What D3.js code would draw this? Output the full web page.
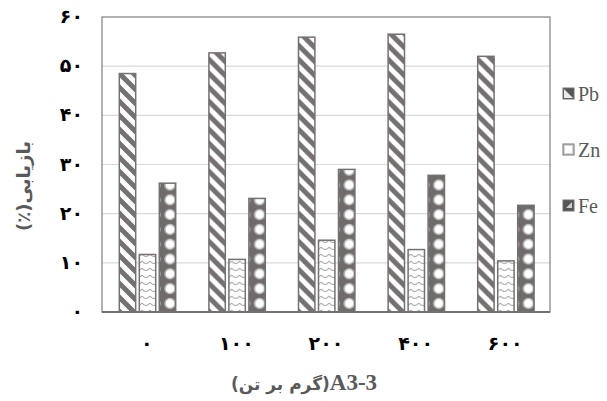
<!DOCTYPE html>
<html>
<head>
<meta charset="utf-8">
<script src="https://cdn.jsdelivr.net/npm/d3@7"></script>
<style>
  body { margin: 0; background: #fff; }
  svg { display: block; }
  .serif { font-family: "Liberation Serif", "Times New Roman", "DejaVu Serif", serif; }
</style>
</head>
<body>
<div id="container"><svg></svg></div>
<script>
// data
let categories = ['۰', '۱۰۰', '۲۰۰', '۴۰۰', '۶۰۰'];
let series = ['Pb', 'Zn', 'Fe'];
let pb = [48.5, 52.7, 55.9, 56.5, 52.0];
let zn = [11.7, 10.7, 14.6, 12.7, 10.4];
let fe = [26.2, 23.1, 29.0, 27.8, 21.7];
let yTicks = [0, 10, 20, 30, 40, 50, 60];
let yTickLabels = ['۰', '۱۰', '۲۰', '۳۰', '۴۰', '۵۰', '۶۰'];

let width = 607, height = 401;
let padding = {left: 102, right: 57, top: 17, bottom: 89};
let edge = '#767171';
let persianFont = 'DejaVu Sans';

let svg = d3.select('#container').select('svg')
    .attr('width', width)
    .attr('height', height);

// patterns
let defs = svg.append('defs');

let p1 = defs.append('pattern').attr('id', 'pat-pb')
    .attr('patternUnits', 'userSpaceOnUse')
    .attr('width', 14).attr('height', 14);
p1.append('rect').attr('width', 14).attr('height', 14).attr('fill', '#fff');
p1.append('path')
    .attr('d', 'M-3.5,-3.5 L3.5,3.5 M0,0 L14,14 M10.5,10.5 L17.5,17.5 M-7,7 L7,21 M7,-7 L21,7')
    .attr('stroke', edge).attr('stroke-width', 5);

let p2 = defs.append('pattern').attr('id', 'pat-zn')
    .attr('patternUnits', 'userSpaceOnUse')
    .attr('width', 8).attr('height', 7);
p2.append('rect').attr('width', 8).attr('height', 7).attr('fill', '#fff');
p2.append('path')
    .attr('d', 'M0,2 Q4,7 8,2')
    .attr('fill', 'none')
    .attr('stroke', '#a6a3a3').attr('stroke-width', 1.1);

let p3 = defs.append('pattern').attr('id', 'pat-fe')
    .attr('patternUnits', 'userSpaceOnUse')
    .attr('width', 15).attr('height', 14.8);
p3.append('rect').attr('width', 15).attr('height', 14.8).attr('fill', '#6f6b6b');
p3.append('circle').attr('cx', 8).attr('cy', 7.4).attr('r', 5)
    .attr('fill', '#fff').attr('stroke', '#bdbaba').attr('stroke-width', 1.5);
p3.append('rect').attr('x', 5).attr('y', 5).attr('width', 5).attr('height', 4)
    .attr('fill', '#fff');

let fills = ['url(#pat-pb)', 'url(#pat-zn)', 'url(#pat-fe)'];

let plotW = width - padding.left - padding.right;
let plotH = height - padding.top - padding.bottom;

let x0 = d3.scaleBand().domain(categories)
    .range([padding.left, width - padding.right])
    .paddingInner(0).paddingOuter(0);
let x1 = d3.scaleBand().domain(series)
    .range([17.3, 17.3 + 56.4])
    .paddingInner(0.18);
let y = d3.scaleLinear().domain([0, 60])
    .range([height - padding.bottom, padding.top]);

// grid
svg.append('g')
    .selectAll('line')
    .data(yTicks.slice(1, -1))
    .enter()
    .append('line')
    .attr('x1', padding.left).attr('x2', width - padding.right)
    .attr('y1', d => y(d)).attr('y2', d => y(d))
    .attr('stroke', '#d9d9d9').attr('stroke-width', 1.2);

// frame
svg.append('rect')
    .attr('x', padding.left).attr('y', padding.top)
    .attr('width', plotW).attr('height', plotH)
    .attr('fill', 'none')
    .attr('stroke', '#8c8888').attr('stroke-width', 1.3);

// bars
let rows = categories.map((c, i) => ({cat: c, vals: [pb[i], zn[i], fe[i]]}));
let groups = svg.append('g').selectAll('g')
    .data(rows)
    .enter()
    .append('g')
    .attr('transform', d => 'translate(' + x0(d.cat) + ',0)');
groups.selectAll('rect')
    .data(d => d.vals.map((v, k) => ({s: series[k], v: v, k: k})))
    .enter()
    .append('rect')
    .attr('x', d => x1(d.s))
    .attr('y', d => y(d.v))
    .attr('width', x1.bandwidth())
    .attr('height', d => y(0) - y(d.v))
    .attr('fill', d => fills[d.k])
    .attr('stroke', edge)
    .attr('stroke-width', 1.5);

// baseline
svg.append('line')
    .attr('x1', padding.left).attr('x2', width - padding.right)
    .attr('y1', y(0)).attr('y2', y(0))
    .attr('stroke', edge).attr('stroke-width', 2);

// y tick labels
svg.append('g')
    .selectAll('text')
    .data(yTicks)
    .enter()
    .append('text')
    .attr('x', 83)
    .attr('y', d => y(d) + 6)
    .attr('text-anchor', 'end')
    .attr('font-family', persianFont)
    .attr('font-weight', 'bold')
    .attr('font-size', 19)
    .attr('fill', '#000')
    .text((d, i) => yTickLabels[i]);

// x tick labels
svg.append('g')
    .selectAll('text')
    .data(categories)
    .enter()
    .append('text')
    .attr('x', d => x0(d) + x0.bandwidth() / 2)
    .attr('y', 350)
    .attr('text-anchor', 'middle')
    .attr('font-family', persianFont)
    .attr('font-weight', 'bold')
    .attr('font-size', 19)
    .attr('fill', '#000')
    .text(d => d);

// legend
let legendTop = [88, 144, 200];
let legend = svg.append('g').selectAll('g')
    .data(series)
    .enter()
    .append('g')
    .attr('transform', (d, i) => 'translate(563,' + legendTop[i] + ')');
legend.append('rect')
    .attr('x', 0).attr('y', 0)
    .attr('width', 11).attr('height', 11)
    .attr('fill', (d, i) => ['#555', '#d6d3d3', '#555'][i])
    .attr('stroke', edge).attr('stroke-width', 1);
legend.append('path')
    .attr('d', (d, i) => i == 0 ? 'M1,1 L10,10 L1,10 Z' : i == 1 ? 'M2,2 L9,2 L9,9 L2,9 Z' : 'M3,8 L9,8 L9,2 Z')
    .attr('fill', (d, i) => ['#e8e8e8', '#fff', '#cfcccc'][i]);
legend.append('text')
    .attr('class', 'serif')
    .attr('x', 15).attr('y', 13)
    .attr('font-size', 20)
    .attr('fill', '#595959')
    .text(d => d);

// axis titles
svg.append('text')
    .attr('transform', 'translate(30,186) rotate(-90)')
    .attr('text-anchor', 'middle')
    .attr('direction', 'rtl')
    .attr('font-family', persianFont)
    .attr('font-weight', 'bold')
    .attr('font-size', 18)
    .attr('fill', '#595959')
    .text('بازیابی(٪)');

let xt = svg.append('text')
    .attr('x', 304).attr('y', 390)
    .attr('text-anchor', 'middle')
    .attr('font-weight', 'bold')
    .attr('fill', '#595959');
xt.append('tspan')
    .attr('font-family', persianFont)
    .attr('font-size', 17)
    .text('(گرم بر تن)');
xt.append('tspan')
    .attr('class', 'serif')
    .attr('font-size', 23)
    .text('A3-3');
</script>
</body>
</html>
